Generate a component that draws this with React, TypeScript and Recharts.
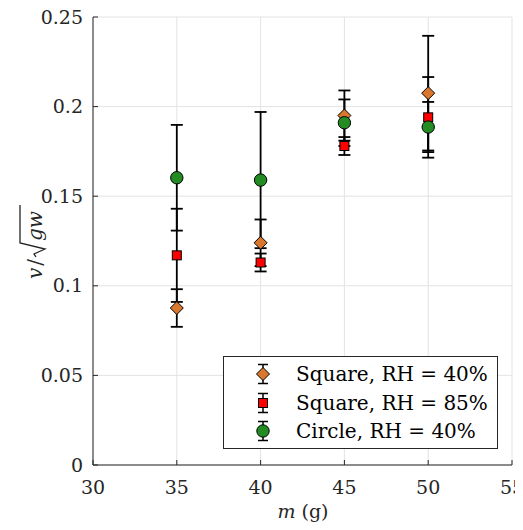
import { ScatterChart, Scatter, XAxis, YAxis, CartesianGrid, ErrorBar, Legend } from "recharts";

// masses (g)
const masses = [35, 40, 45, 50];

// Square, RH = 40%
const square40 = [0.0876, 0.124, 0.195, 0.2075];
const square40Err = [0.0105, 0.013, 0.014, 0.032];

// Square, RH = 85%
const square85 = [0.117, 0.113, 0.178, 0.194];
const square85Err = [0.026, 0.005, 0.005, 0.0225];

// Circle, RH = 40%
const circle40 = [0.1603, 0.159, 0.191, 0.1886];
const circle40Err = [0.0295, 0.038, 0.013, 0.014];

const xTicks = [30, 35, 40, 45, 50, 55];
const yTicks = [0, 0.05, 0.1, 0.15, 0.2, 0.25];

const FONT = "DejaVu Serif";
const AXIS = "#262626";
const ORANGE = "#D9782D";
const RED = "#FF0000";
const GREEN = "#228B22";

const toRows = (ys: number[], errs: number[]) =>
  masses.map((m, i) => ({ m, v: ys[i], err: errs[i] }));

const Diamond = ({ cx, cy }: any) => (
  <path d={`M${cx},${cy - 6.5} L${cx + 6.5},${cy} L${cx},${cy + 6.5} L${cx - 6.5},${cy} Z`} fill={ORANGE} stroke="#000" strokeWidth={1} />
);
const Square = ({ cx, cy }: any) => (
  <rect x={cx - 4.5} y={cy - 4.5} width={9} height={9} fill={RED} stroke="#000" strokeWidth={1} />
);
const Circle = ({ cx, cy }: any) => <circle cx={cx} cy={cy} r={6.2} fill={GREEN} stroke="#000" strokeWidth={1} />;

const fmt = (v: number) => (v === 0 ? "0" : String(v));

const BottomTick = ({ x, y, payload }: any) => (
  <g>
    <line x1={x} x2={x} y1={y - 22} y2={y - 27} stroke={AXIS} />
    <text x={x} y={y} dy="0.35em" textAnchor="middle" fontFamily={FONT} fontSize={19} fill={AXIS}>
      {payload.value}
    </text>
  </g>
);
const TopTick = ({ x, y }: any) => <line x1={x} x2={x} y1={y} y2={y + 5} stroke={AXIS} />;
const LeftTick = ({ x, y, payload }: any) => (
  <g>
    <line x1={x + 10} x2={x + 15} y1={y} y2={y} stroke={AXIS} />
    <text x={x} y={y} dy="0.35em" textAnchor="end" fontFamily={FONT} fontSize={19} fill={AXIS}>
      {fmt(payload.value)}
    </text>
  </g>
);
const RightTick = ({ x, y }: any) => <line x1={x} x2={x - 5} y1={y} y2={y} stroke={AXIS} />;

// v / sqrt(gw), rotated; radical drawn as a path
const YLabel = () => (
  <g transform="translate(35, 245) rotate(-90)" fill={AXIS}>
    <text x={-14} y={7} textAnchor="end" fontFamily={FONT} fontSize={20}>
      <tspan fontStyle="italic">v</tspan>
      <tspan dx={2}>/</tspan>
    </text>
    <path d="M-12,1 L-9,-1 L-4,10 L2,-15 L40,-15" fill="none" stroke={AXIS} strokeWidth={1.3} />
    <text x={4} y={7} fontFamily={FONT} fontSize={20} fontStyle="italic">
      gw
    </text>
  </g>
);

const XLabel = () => (
  <text x={303} y={518} textAnchor="middle" fontFamily={FONT} fontSize={19} fill={AXIS}>
    <tspan fontStyle="italic">m</tspan>
    <tspan> (g)</tspan>
  </text>
);

const legendItems = [
  { name: "Square, RH = 40%", Shape: Diamond },
  { name: "Square, RH = 85%", Shape: Square },
  { name: "Circle, RH = 40%", Shape: Circle },
];

const renderLegend = () => (
  <div
    style={{
      border: `1px solid ${AXIS}`,
      background: "#fff",
      width: 275,
      height: 93,
      paddingTop: 3,
      boxSizing: "border-box",
      fontFamily: FONT,
      fontSize: 20,
      color: "#000",
    }}
  >
    {legendItems.map(({ name, Shape }) => (
      <div key={name} style={{ display: "flex", alignItems: "center", height: 28.5 }}>
        <svg width={24} height={24} style={{ marginLeft: 27 }}>
          <line x1={12} x2={12} y1={2.5} y2={21.5} stroke="#000" strokeWidth={1.5} />
          <line x1={7} x2={17} y1={2.5} y2={2.5} stroke="#000" strokeWidth={1.5} />
          <line x1={7} x2={17} y1={21.5} y2={21.5} stroke="#000" strokeWidth={1.5} />
          <Shape cx={12} cy={12} />
        </svg>
        <span style={{ marginLeft: 21, whiteSpace: "nowrap" }}>{name}</span>
      </div>
    ))}
  </div>
);

export default function App() {
  return (
    <div style={{ margin: "-8px 0 0 -8px" }}>
      <ScatterChart width={523} height={530} margin={{ top: 17, right: 11, left: 8, bottom: 0 }}>
        <CartesianGrid xAxisId="b" yAxisId="l" stroke="#e3e3e3" />
        <XAxis
          xAxisId="b"
          type="number"
          dataKey="m"
          domain={[30, 55]}
          ticks={xTicks}
          height={65}
          tickSize={0}
          tickMargin={22}
          tick={BottomTick}
          axisLine={{ stroke: AXIS }}
          label={<XLabel />}
        />
        <XAxis
          xAxisId="t"
          orientation="top"
          type="number"
          domain={[30, 55]}
          ticks={xTicks}
          height={0}
          tickSize={0}
          tickMargin={0}
          tick={TopTick}
          axisLine={{ stroke: AXIS }}
          allowDataOverflow
        />
        <YAxis
          yAxisId="l"
          type="number"
          dataKey="v"
          domain={[0, 0.25]}
          ticks={yTicks}
          width={85}
          tickSize={0}
          tickMargin={10}
          tick={LeftTick}
          axisLine={{ stroke: AXIS }}
          label={<YLabel />}
        />
        <YAxis
          yAxisId="r"
          orientation="right"
          type="number"
          domain={[0, 0.25]}
          ticks={yTicks}
          width={0}
          tickSize={0}
          tickMargin={0}
          tick={RightTick}
          axisLine={{ stroke: AXIS }}
          allowDataOverflow
        />
        <Legend
          layout="vertical"
          align="center"
          verticalAlign="middle"
          content={renderLegend}
          wrapperStyle={{ left: 223, top: 356, width: 275 }}
        />
        <Scatter xAxisId="b" yAxisId="l" name="Square, RH = 40%" data={toRows(square40, square40Err)} shape={Diamond} isAnimationActive={false}>
          <ErrorBar dataKey="err" direction="y" width={6} stroke="#000" strokeWidth={1.8} />
        </Scatter>
        <Scatter xAxisId="b" yAxisId="l" name="Square, RH = 85%" data={toRows(square85, square85Err)} shape={Square} isAnimationActive={false}>
          <ErrorBar dataKey="err" direction="y" width={6} stroke="#000" strokeWidth={1.8} />
        </Scatter>
        <Scatter xAxisId="b" yAxisId="l" name="Circle, RH = 40%" data={toRows(circle40, circle40Err)} shape={Circle} isAnimationActive={false}>
          <ErrorBar dataKey="err" direction="y" width={6} stroke="#000" strokeWidth={1.8} />
        </Scatter>
      </ScatterChart>
    </div>
  );
}
